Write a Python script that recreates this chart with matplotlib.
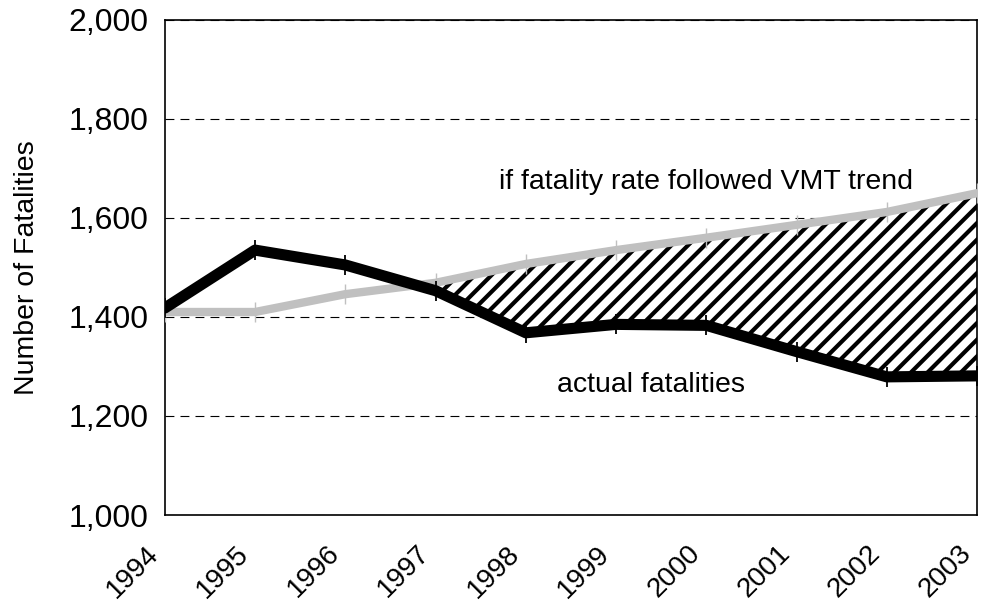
import numpy as np
from matplotlib import pyplot as plt
from matplotlib import transforms as mtransforms

plt.rcParams['font.family'] = ['Liberation Sans', 'DejaVu Sans']
plt.rcParams['hatch.linewidth'] = 3.0

# Data
years = [1994, 1995, 1996, 1997, 1998, 1999, 2000, 2001, 2002, 2003]
actual = [1418, 1535, 1505, 1453, 1368, 1385, 1383, 1330, 1279, 1281]
vmt_trend = [1410, 1410, 1446, 1469, 1507, 1535, 1560, 1586, 1612, 1650]

x = np.array(years)
y_act = np.array(actual)
y_vmt = np.array(vmt_trend)

fig = plt.figure(figsize=(9.81, 6.02), dpi=100)
ax = fig.add_axes([0.168, 0.1445, 0.828, 0.8225])

# hatched gap between trend and actual
ax.fill_between(x, y_act, y_vmt, where=y_vmt >= y_act, interpolate=True,
                facecolor='white', edgecolor='black', hatch='//',
                linewidth=0, zorder=2)

ax.plot(x, y_vmt, color='#c0c0c0', lw=6, solid_capstyle='round',
        marker='|', ms=14, mew=1.0, mec='#c0c0c0', zorder=3)
ax.plot(x, y_act, color='black', lw=8, solid_capstyle='round',
        marker='|', ms=15, mew=1.3, mec='black', zorder=4)

ax.set_xlim(1994, 2003)
ax.set_ylim(1000, 2000)
ax.set_yticks(range(1000, 2001, 200))
ax.set_yticklabels([f'{v:,}' for v in range(1000, 2001, 200)], fontsize=23)
ax.set_xticks(years)
ax.set_xticklabels([str(y) for y in years], rotation=45, ha='right',
                   va='center', rotation_mode='anchor', fontsize=20)
ax.tick_params(length=0)
ax.tick_params(axis='y', pad=12)
ax.tick_params(axis='x', pad=25)
shift = mtransforms.ScaledTranslation(-10 / 100, 0, fig.dpi_scale_trans)
for lbl in ax.get_xticklabels():
    lbl.set_transform(lbl.get_transform() + shift)

ax.yaxis.grid(True, linestyle=(0, (8, 5.5)), color='black', lw=0.8)
ax.set_axisbelow(True)
for s in ax.spines.values():
    s.set_linewidth(1.2)

ax.set_ylabel('Number of Fatalities', fontsize=20.5, labelpad=20)

ax.text(2000.0, 1673, 'if fatality rate followed VMT trend', fontsize=20.5,
        ha='center', va='center')
ax.text(1999.39, 1263, 'actual fatalities', fontsize=20.5,
        ha='center', va='center')

plt.savefig('out.png', dpi=100)
